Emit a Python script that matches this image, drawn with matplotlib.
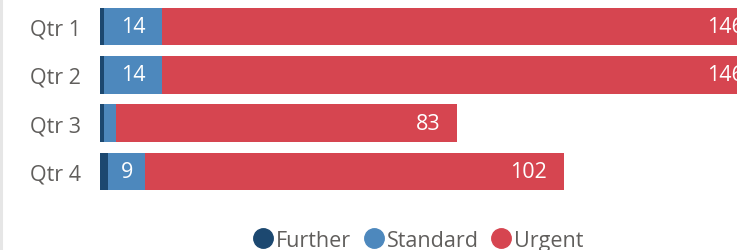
import matplotlib
matplotlib.use("Agg")
import matplotlib.pyplot as plt
from matplotlib.lines import Line2D
import numpy as np

plt.rcParams['font.family'] = ['Open Sans', 'DejaVu Sans']

categories = ["Qtr 1", "Qtr 2", "Qtr 3", "Qtr 4"]
further = [1, 1, 1, 2]
standard = [14, 14, 3, 9]
urgent = [146, 146, 83, 102]

series_names = ["Further", "Standard", "Urgent"]
colors = ["#1C4870", "#4D88BD", "#D64550"]
text_gray = "#605E5C"

W, H = 737, 251
fig = plt.figure(figsize=(W / 100, H / 100), dpi=100)
left_px, right_px = 100, 737
top_px, bottom_px = 3.6, 196.4
ax = fig.add_axes([left_px / W, 1 - bottom_px / H, (right_px - left_px) / W, (bottom_px - top_px) / H])

y = np.arange(len(categories))
h = 0.78
f = np.array(further)
s = np.array(standard)
u = np.array(urgent)
ax.barh(y, f, height=h, color=colors[0], left=0)
ax.barh(y, s, height=h, color=colors[1], left=f)
ax.barh(y, u, height=h, color=colors[2], left=f + s)

px_per_unit = 4.108
ax.set_xlim(0, (right_px - left_px) / px_per_unit)
ax.set_ylim(len(categories) - 0.5, -0.5)

fs = 15.5
for i in range(len(categories)):
    if s[i] >= 5:
        ax.text(f[i] + s[i] / 2, y[i], str(s[i]), ha="center", va="center",
                color="white", fontsize=fs, clip_on=False)
    end = f[i] + s[i] + u[i]
    ax.annotate(str(u[i]), xy=(end, y[i]), xytext=(-12.5, 0), textcoords="offset points",
                ha="right", va="center", color="white", fontsize=fs, annotation_clip=False)

ax.set_yticks(y)
ax.set_yticklabels(categories, fontsize=fs, color=text_gray)
ax.tick_params(axis="y", length=0, pad=14)
ax.set_xticks([])
for sp in ax.spines.values():
    sp.set_visible(False)

handles = [Line2D([0], [0], marker="o", linestyle="none", markersize=14,
                  markerfacecolor=c, markeredgecolor=c) for c in colors]
leg = fig.legend(handles, series_names, loc="center", ncol=3,
                 bbox_to_anchor=(418.5 / W, 1 - 241.5 / H), frameon=False,
                 fontsize=fs, handlelength=0.9, handletextpad=0.15,
                 columnspacing=0.6, borderaxespad=0, borderpad=0)
for t in leg.get_texts():
    t.set_color(text_gray)

fig.add_artist(Line2D([1.2 / W, 1.2 / W], [0, 1], color="#E6E6E6", linewidth=2.2,
                      transform=fig.transFigure))

fig.savefig("out.png", dpi=100)
